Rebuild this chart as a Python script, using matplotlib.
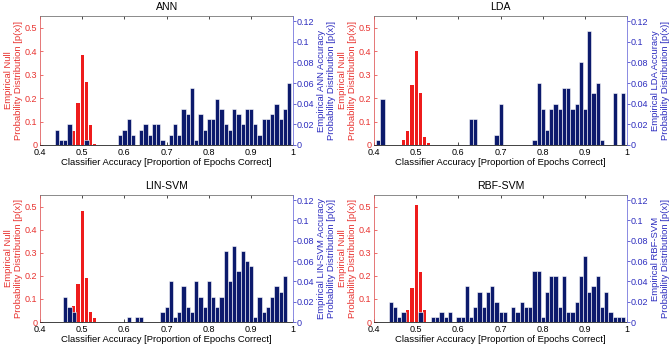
import matplotlib
matplotlib.use("Agg")
import matplotlib.pyplot as plt
import numpy as np

plt.rcParams['font.family'] = ['Liberation Sans', 'DejaVu Sans']

titles = ["ANN", "LDA", "LIN-SVM", "RBF-SVM"]
right_labels = ["Empirical ANN Accuracy\nProbability Distribution [p(x)]",
                "Empirical LDA Accuracy\nProbability Distribution [p(x)]",
                "Empirical LIN-SVM Accuracy\nProbability Distribution [p(x)]",
                "Empirical RBF-SVM\nProbability Distribution [p(x)]"]
left_label = "Empirical Null\nProbability Distribution [p(x)]"
x_label = "Classifier Accuracy [Proportion of Epochs Correct]"

# Empirical null distributions (left axis)
ann_null_x = [0.48, 0.49, 0.50, 0.51, 0.52, 0.53, 0.54]
ann_null_p = [0.06, 0.18, 0.385, 0.27, 0.085, 0.003, 0.002]
lda_null_x = [0.47, 0.48, 0.49, 0.50, 0.51, 0.52, 0.53]
lda_null_p = [0.022, 0.06, 0.255, 0.40, 0.22, 0.033, 0.008]
lin_null_x = [0.48, 0.49, 0.50, 0.51, 0.52, 0.53]
lin_null_p = [0.07, 0.165, 0.48, 0.19, 0.042, 0.018]
rbf_null_x = [0.48, 0.49, 0.50, 0.51, 0.52]
rbf_null_p = [0.05, 0.148, 0.505, 0.218, 0.05]

# Empirical classifier accuracy distributions (right axis)
ann_acc_x = [0.44, 0.45, 0.46, 0.47, 0.51, 0.59, 0.60, 0.61, 0.62, 0.64, 0.65,
             0.66, 0.67, 0.68, 0.69, 0.71, 0.72, 0.73, 0.74, 0.75, 0.76, 0.77,
             0.78, 0.79, 0.80, 0.81, 0.82, 0.83, 0.84, 0.85, 0.86, 0.87, 0.88,
             0.89, 0.90, 0.91, 0.92, 0.93, 0.94, 0.95, 0.96, 0.97, 0.98, 0.99]
ann_acc_p = [0.015, 0.005, 0.005, 0.02, 0.005, 0.01, 0.015, 0.025, 0.01, 0.015, 0.02,
             0.01, 0.02, 0.02, 0.005, 0.01, 0.02, 0.01, 0.035, 0.03, 0.055, 0.005,
             0.03, 0.015, 0.025, 0.025, 0.045, 0.035, 0.02, 0.015, 0.035, 0.03, 0.02,
             0.035, 0.035, 0.02, 0.01, 0.025, 0.025, 0.03, 0.04, 0.025, 0.035, 0.06]
lda_acc_x = [0.41, 0.42, 0.63, 0.64, 0.69, 0.70, 0.78, 0.79, 0.80, 0.81, 0.82,
             0.83, 0.84, 0.85, 0.86, 0.87, 0.88, 0.89, 0.90, 0.91, 0.92, 0.93,
             0.94, 0.97, 0.99]
lda_acc_p = [0.005, 0.045, 0.025, 0.025, 0.01, 0.04, 0.005, 0.06, 0.035, 0.015, 0.035,
             0.04, 0.035, 0.055, 0.055, 0.035, 0.04, 0.08, 0.035, 0.11, 0.05, 0.06,
             0.005, 0.05, 0.05]
lin_acc_x = [0.46, 0.47, 0.48, 0.61, 0.63, 0.64, 0.69, 0.70, 0.71, 0.72, 0.73,
             0.74, 0.75, 0.76, 0.77, 0.78, 0.79, 0.80, 0.81, 0.82, 0.83, 0.84,
             0.85, 0.86, 0.87, 0.88, 0.89, 0.90, 0.91, 0.92, 0.93, 0.94, 0.95,
             0.96, 0.97, 0.98]
lin_acc_p = [0.025, 0.015, 0.01, 0.005, 0.005, 0.005, 0.01, 0.015, 0.04, 0.005, 0.01,
             0.035, 0.015, 0.01, 0.04, 0.025, 0.015, 0.04, 0.025, 0.015, 0.025, 0.07,
             0.04, 0.075, 0.05, 0.07, 0.06, 0.055, 0.005, 0.025, 0.01, 0.015, 0.025,
             0.035, 0.03, 0.045]
rbf_acc_x = [0.44, 0.45, 0.46, 0.47, 0.51, 0.54, 0.55, 0.56, 0.57, 0.58, 0.60,
             0.61, 0.62, 0.63, 0.64, 0.65, 0.66, 0.67, 0.68, 0.69, 0.70, 0.71,
             0.73, 0.74, 0.75, 0.76, 0.77, 0.78, 0.79, 0.80, 0.81, 0.82, 0.83,
             0.84, 0.85, 0.86, 0.87, 0.88, 0.89, 0.90, 0.91, 0.92, 0.93, 0.94,
             0.95, 0.96, 0.97, 0.98, 0.99]
rbf_acc_p = [0.02, 0.015, 0.005, 0.01, 0.01, 0.005, 0.005, 0.01, 0.005, 0.01, 0.005,
             0.005, 0.035, 0.005, 0.015, 0.03, 0.015, 0.03, 0.035, 0.02, 0.01, 0.01,
             0.015, 0.01, 0.02, 0.015, 0.015, 0.05, 0.05, 0.005, 0.03, 0.045, 0.045,
             0.015, 0.045, 0.01, 0.01, 0.02, 0.045, 0.065, 0.03, 0.035, 0.045, 0.015,
             0.03, 0.01, 0.005, 0.005, 0.005]

nulls = [(ann_null_x, ann_null_p), (lda_null_x, lda_null_p),
         (lin_null_x, lin_null_p), (rbf_null_x, rbf_null_p)]
accs = [(ann_acc_x, ann_acc_p), (lda_acc_x, lda_acc_p),
        (lin_acc_x, lin_acc_p), (rbf_acc_x, rbf_acc_p)]

x_ticks = [0.4, 0.5, 0.6, 0.7, 0.8, 0.9, 1.0]
x_ticklabels = ["0.4", "0.5", "0.6", "0.7", "0.8", "0.9", "1"]
left_ticks = [0, 0.1, 0.2, 0.3, 0.4, 0.5]
left_ticklabels = ["0", "0.1", "0.2", "0.3", "0.4", "0.5"]
right_ticks = [0, 0.02, 0.04, 0.06, 0.08, 0.1, 0.12]
right_ticklabels = ["0", "0.02", "0.04", "0.06", "0.08", "0.1", "0.12"]

RED = "#ee1c1c"
NAVY = "#0c1a6c"
LBL_RED = "#e8322f"
LBL_BLUE = "#2d2dbf"

W, H = 669, 345
fig = plt.figure(figsize=(W / 100, H / 100), dpi=100)

# axes boxes in pixels: (left, top, right, bottom)
boxes = [(40, 16, 293.3, 145), (374, 16, 627.3, 145),
         (40, 195, 293.3, 322), (374, 195, 627.3, 322)]

fs_tick = 6.5
fs_lab = 6.8
for i, (l, t, r, b) in enumerate(boxes):
    ax = fig.add_axes([l / W, 1 - b / H, (r - l) / W, (b - t) / H])
    nx, npv = nulls[i]
    ax.bar(nx, npv, width=0.0072, color=RED, edgecolor='none', zorder=2)
    ax.set_xlim(0.4, 1.0)
    ax.set_ylim(0, 0.55)
    ax.set_xticks(x_ticks)
    ax.set_xticklabels(x_ticklabels, fontsize=fs_tick)
    ax.set_yticks(left_ticks)
    ax.set_yticklabels(left_ticklabels, fontsize=fs_tick, color=LBL_RED)
    ax.tick_params(axis='x', direction='in', length=2.5, width=0.5, top=True,
                   pad=2.5, colors='black')
    ax.tick_params(axis='y', direction='in', length=2.5, width=0.5, pad=2,
                   colors=LBL_RED)
    ax.set_title(titles[i], fontsize=7.6, pad=4)
    ax.set_xlabel(x_label, fontsize=fs_lab, labelpad=0.5)
    ax.set_ylabel(left_label, fontsize=fs_lab, color=LBL_RED, labelpad=1.5,
                  linespacing=1.1)
    for s in ['top', 'bottom']:
        ax.spines[s].set_color('#777777')
        ax.spines[s].set_linewidth(0.6)
    ax.spines['bottom'].set_color('#222222')
    ax.spines['left'].set_color('#e06060')
    ax.spines['left'].set_linewidth(0.6)
    ax.spines['right'].set_visible(False)

    ax2 = ax.twinx()
    axx, axp = accs[i]
    ax2.bar(axx, axp, width=0.01, color=NAVY, edgecolor='white', linewidth=0.4,
            zorder=3)
    ax2.set_xlim(0.4, 1.0)
    ax2.set_ylim(0, 0.125)
    ax2.set_yticks(right_ticks)
    ax2.set_yticklabels(right_ticklabels, fontsize=fs_tick, color=LBL_BLUE)
    ax2.tick_params(axis='y', direction='out', length=2.0, width=0.5, pad=0.5,
                    colors=LBL_BLUE)
    ax2.set_ylabel(right_labels[i], fontsize=fs_lab, color=LBL_BLUE,
                   labelpad=2, linespacing=1.1)
    ax2.spines['right'].set_color('#7777dd')
    ax2.spines['right'].set_linewidth(0.6)
    for s in ['top', 'bottom', 'left']:
        ax2.spines[s].set_visible(False)

fig.savefig("out.png", dpi=100)
